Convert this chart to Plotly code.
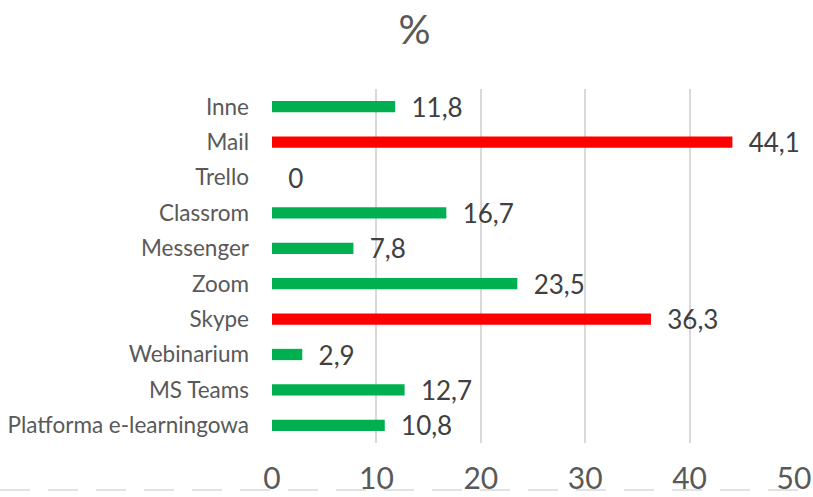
import plotly.graph_objects as go

categories = ["Platforma e-learningowa", "MS Teams", "Webinarium", "Skype", "Zoom",
              "Messenger", "Classrom", "Trello", "Mail", "Inne"]
values = [10.8, 12.7, 2.9, 36.3, 23.5, 7.8, 16.7, 0, 44.1, 11.8]
highlight = ["Skype", "Mail"]
tick_vals = [0, 10, 20, 30, 40, 50]

GREEN = "#00B050"
RED = "#FF0000"
colors = [RED if c in highlight else GREEN for c in categories]
labels = ["\u00a0\u00a0" + (f"{v:g}".replace(".", ",")) for v in values]

W, H = 813, 497
L, R, T, B = 272, 19, 89, 54
PW, PH = W - L - R, H - T - B

fig = go.Figure(go.Bar(
    y=categories, x=values, orientation="h",
    marker=dict(color=colors, line=dict(width=0)),
    width=0.32,
    text=labels, textposition="outside", constraintext="none",
    cliponaxis=False,
    textfont=dict(family="Lato", size=26, color="#404040"),
    hoverinfo="skip",
))

fig.update_layout(
    width=W, height=H,
    margin=dict(l=L, r=R, t=T, b=B, autoexpand=False),
    paper_bgcolor="white", plot_bgcolor="white",
    showlegend=False,
    title=dict(text="%", x=0.51, xref="container", xanchor="center", y=0.94, yanchor="middle",
               yref="container",
               font=dict(family="Lato", size=40, color="#595959")),
    font=dict(family="Lato", color="#595959"),
    xaxis=dict(range=[0, 50], tickvals=tick_vals, showgrid=True, gridcolor="#D9D9D9",
               gridwidth=1.5, zeroline=False, showline=False, ticks="",
               ticklabelstandoff=15, automargin=False,
               tickfont=dict(family="Lato", size=30, color="#595959"), fixedrange=True),
    yaxis=dict(categoryorder="array", categoryarray=categories, showgrid=False,
               zeroline=False, showline=False, ticks="", ticklabelstandoff=22,
               automargin=False,
               tickfont=dict(family="Lato", size=22.5, color="#595959"), fixedrange=True),
    shapes=[dict(type="line", xref="paper", yref="paper",
                 x0=-L / PW, x1=1 + R / PW, y0=-47 / PH, y1=-47 / PH,
                 line=dict(color="#D9D9D9", width=1.5, dash="30px,18px"), layer="below")],
)

fig.write_html("out.html", config={"displayModeBar": False},
               post_script="document.body.style.margin='0';document.body.style.overflow='hidden';")
